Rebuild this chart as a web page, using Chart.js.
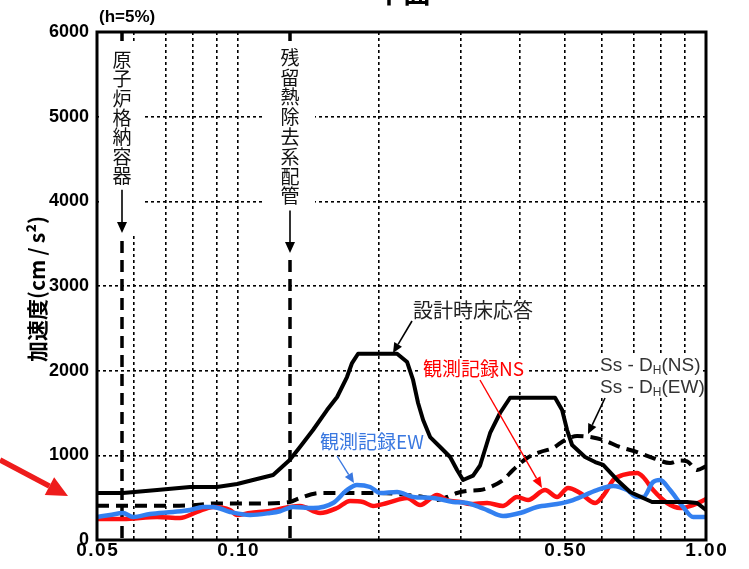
<!DOCTYPE html>
<html>
<head>
<meta charset="utf-8">
<script src="https://cdn.jsdelivr.net/npm/chart.js@4/dist/chart.umd.min.js"></script>
<style>
  html, body { margin: 0; padding: 0; background: #fff; }
  #wrap { width: 749px; height: 569px; position: relative; }
</style>
</head>
<body>
<div id="wrap"><canvas id="c" width="749" height="569"></canvas></div>
<script>
// 周期 (s) と 応答加速度 (cm/s²)、減衰 h=5%

// 設計時床応答
const designPeriods = [0.05,0.0568,0.0672,0.079,0.0902,0.0996,0.1077,0.1189,0.129,0.1357,
  0.1447,0.155,0.1629,0.171,0.1753,0.1806,0.2188,0.2299,0.2367,0.2426,
  0.2487,0.2574,0.2704,0.284,0.2939,0.3027,0.318,0.3291,0.3458,0.3631,
  0.3815,0.476,0.4927,0.505,0.5175,0.5516,0.5796,0.603,0.646,0.6885,
  0.734,0.767,0.838,0.9115,0.957,1.0];
const designAccel = [555,555,590,626,626,661,709,768,945,1098,
  1299,1535,1689,1925,2090,2200,2200,2102,1890,1618,
  1417,1216,1098,980,827,709,760,880,1264,1500,
  1680,1680,1535,1299,1122,980,921,886,709,567,
  496,449,449,449,437,354];

// Ss-D_H (NS/EW)
const ssPeriods = [0.05,0.0672,0.079,0.0902,0.1,0.123,0.129,0.1357,0.1498,0.171,
  0.2012,0.2299,0.2487,0.2664,0.2797,0.2939,0.3087,0.3291,0.3458,0.3685,
  0.387,0.4146,0.4422,0.4713,0.5,0.5305,0.5655,0.603,0.6554,0.7126,
  0.771,0.838,0.8806,0.9115,0.957,1.0];
const ssAccel = [405,405,410,432,430,437,449,496,555,555,
  555,531,508,472,508,555,579,590,626,709,
  827,968,1039,1087,1181,1228,1216,1181,1098,1039,
  968,909,940,930,827,870];

// 観測記録NS
const nsPeriods = [0.05,0.0568,0.0672,0.0752,0.0818,0.0885,0.0962,0.0996,0.1062,0.1171,
  0.129,0.1357,0.1498,0.1629,0.1736,0.185,0.1944,0.2083,0.2299,0.245,
  0.2664,0.2797,0.2983,0.3133,0.3407,0.3685,0.3948,0.4167,0.4532,0.4807,
  0.5074,0.5385,0.5796,0.609,0.6334,0.665,0.7126,0.734,0.771,0.826,
  0.8806,0.9385,1.0];
const nsAccel = [248,248,272,260,331,390,354,295,319,343,
  390,402,319,378,461,449,402,437,496,413,
  531,472,449,425,437,402,508,472,590,508,
  614,555,437,555,709,768,791,744,590,437,
  378,413,484];

// 観測記録EW
const ewPeriods = [0.05,0.0533,0.0568,0.0597,0.0649,0.0727,0.079,0.0842,0.0885,0.0962,
  0.1062,0.1171,0.123,0.1312,0.1447,0.1597,0.171,0.1796,0.1916,0.2012,
  0.2188,0.2367,0.2612,0.2882,0.3087,0.3291,0.3407,0.3685,0.4007,0.4355,
  0.4807,0.52,0.585,0.6334,0.6783,0.7126,0.734,0.771,0.798,0.838,
  0.8935,0.9385,1.0];
const ewAccel = [272,295,319,272,307,331,354,390,390,331,
  295,319,340,390,378,437,590,650,626,555,
  567,508,496,449,437,385,354,283,319,390,
  425,472,590,638,590,508,508,685,709,590,
  390,272,272];

// 軸目盛
const xTickValues = [0.05,0.06,0.07,0.08,0.09,0.1,0.2,0.3,0.4,0.5,0.6,0.7,0.8,0.9,1.0];
const xTickLabelValues = [0.05,0.1,0.5,1.0];
const xTickLabels = ['0.05','0.10','0.50','1.00'];
const yTickValues = [0,1000,2000,3000,4000,5000,6000];

// 設備の固有周期
const markerPeriods = [0.0566, 0.129];
const markerLabels = ['原子炉格納容器', '残留熱除去系配管'];

const CJK = '"Noto Sans CJK JP", "Noto Sans", sans-serif';
const LAT = '"Liberation Sans", Arial, sans-serif';

const toPts = (xs, ys) => xs.map((x, i) => ({ x: x, y: ys[i] }));

function arrow(ctx, x1, y1, x2, y2, color, w, headLen, headHalf) {
  const a = Math.atan2(y2 - y1, x2 - x1);
  const bx = x2 - headLen * Math.cos(a), by = y2 - headLen * Math.sin(a);
  ctx.save();
  ctx.strokeStyle = color; ctx.fillStyle = color; ctx.lineWidth = w; ctx.setLineDash([]);
  ctx.beginPath(); ctx.moveTo(x1, y1); ctx.lineTo(bx, by); ctx.stroke();
  ctx.beginPath();
  ctx.moveTo(x2, y2);
  ctx.lineTo(bx + headHalf * Math.sin(a), by - headHalf * Math.cos(a));
  ctx.lineTo(bx - headHalf * Math.sin(a), by + headHalf * Math.cos(a));
  ctx.closePath(); ctx.fill();
  ctx.restore();
}

function boxedText(ctx, text, x, y, font, color, align) {
  ctx.save();
  ctx.font = font; ctx.textBaseline = 'middle'; ctx.textAlign = align || 'left';
  const w = ctx.measureText(text).width;
  const lx = align === 'center' ? x - w / 2 : x;
  ctx.fillStyle = '#fff';
  ctx.fillRect(lx - 3, y - 11, w + 6, 22);
  ctx.fillStyle = color;
  ctx.fillText(text, x, y);
  ctx.restore();
}

function ssLabel(ctx, x, y, dir) {
  ctx.save();
  ctx.font = '19px ' + LAT;
  const a = 'Ss - D', sub = 'H', b = '(' + dir + ')';
  const wa = ctx.measureText(a).width, wb = ctx.measureText(b).width;
  ctx.font = '12px ' + LAT;
  const ws = ctx.measureText(sub).width;
  ctx.fillStyle = '#fff';
  ctx.fillRect(x - 2, y - 11, wa + ws + wb + 4, 22);
  ctx.fillStyle = '#333';
  ctx.textBaseline = 'alphabetic';
  ctx.font = '19px ' + LAT;
  ctx.fillText(a, x, y + 7);
  ctx.font = '12px ' + LAT;
  ctx.fillText(sub, x + wa, y + 10);
  ctx.font = '19px ' + LAT;
  ctx.fillText(b, x + wa + ws, y + 7);
  ctx.restore();
}

const annotations = {
  id: 'annotations',
  beforeDatasetsDraw(chart) {
    const ctx = chart.ctx, area = chart.chartArea, xs = chart.scales.x;
    // 固有周期の縦線
    ctx.save();
    ctx.strokeStyle = '#000'; ctx.lineWidth = 3.5; ctx.setLineDash([12, 7]);
    markerPeriods.forEach(p => {
      const px = Math.round(xs.getPixelForValue(p));
      ctx.beginPath(); ctx.moveTo(px, area.top); ctx.lineTo(px, area.bottom); ctx.stroke();
    });
    ctx.restore();

    // 設備名 (縦書き) と矢印
    const boxes = [
      { top: 41, bottom: 236, half: 23, charTop: 52, step: 19.4, arrowEnd: 233 },
      { top: 41, bottom: 256, half: 25, charTop: 50, step: 19.8, arrowEnd: 253 }
    ];
    markerLabels.forEach((label, k) => {
      const b = boxes[k];
      const px = Math.round(xs.getPixelForValue(markerPeriods[k]));
      ctx.save();
      ctx.fillStyle = '#fff';
      ctx.fillRect(px - b.half, b.top, b.half * 2, b.bottom - b.top);
      ctx.fillStyle = '#111';
      ctx.font = '19px ' + CJK;
      ctx.textAlign = 'center'; ctx.textBaseline = 'top';
      const chars = Array.from(label);
      chars.forEach((ch, i) => ctx.fillText(ch, px, b.charTop + i * b.step - 2));
      const textEnd = b.charTop + chars.length * b.step + 2;
      ctx.restore();
      arrow(ctx, px, textEnd, px, b.arrowEnd, '#000', 1.6, 11, 5);
    });

    // 曲線の注記
    boxedText(ctx, '設計時床応答', 413, 310, '20px ' + CJK, '#222');
    boxedText(ctx, '観測記録NS', 423, 369, '19px ' + CJK, '#ff0000');
    boxedText(ctx, '観測記録EW', 320, 442, '19px ' + CJK, '#3a78e0');
    ssLabel(ctx, 600, 364, 'NS');
    ssLabel(ctx, 600, 386, 'EW');
  },
  afterDatasetsDraw(chart) {
    const ctx = chart.ctx, area = chart.chartArea;
    arrow(ctx, 412, 321, 393, 353, '#000', 1.6, 10, 4.5);
    arrow(ctx, 480, 380, 542, 488, '#ff0000', 1.4, 11, 4.5);
    arrow(ctx, 337, 456, 354, 483, '#3a78e0', 1.4, 10, 4.5);
    arrow(ctx, 605, 398, 588, 434, '#000', 1.6, 10, 4.5);
    // 枠
    ctx.save();
    ctx.strokeStyle = '#000'; ctx.lineWidth = 3; ctx.setLineDash([]);
    ctx.strokeRect(area.left, area.top, area.right - area.left, area.bottom - area.top);
    ctx.restore();
  },
  afterDraw(chart) {
    const ctx = chart.ctx, area = chart.chartArea, xs = chart.scales.x;
    ctx.save();
    ctx.fillStyle = '#000';
    // 周期軸の目盛ラベル (字間を少し広げて描く)
    ctx.font = 'bold 19px ' + LAT;
    ctx.textAlign = 'center'; ctx.textBaseline = 'middle';
    ctx.letterSpacing = '1.5px';
    xTickLabelValues.forEach((v, i) => {
      ctx.fillText(xTickLabels[i], xs.getPixelForValue(v) + 0.75, area.bottom + 11);
    });
    ctx.letterSpacing = '0px';
    ctx.font = 'bold 28px ' + CJK;
    ctx.textAlign = 'center'; ctx.textBaseline = 'alphabetic';
    ctx.fillText('平面', 403, 3);
    ctx.font = 'bold 17px ' + LAT;
    ctx.textAlign = 'left'; ctx.textBaseline = 'middle';
    ctx.fillText('(h=5%)', 99, 17);
    // y軸タイトル
    ctx.translate(37, 289);
    ctx.rotate(-Math.PI / 2);
    ctx.textAlign = 'center';
    ctx.font = 'bold 21px ' + CJK;
    ctx.fillText('加速度(cm\u2009/\u2009s²)', 0, 0);
    ctx.restore();
    // 左端の赤矢印
    arrow(ctx, 0, 460, 68, 496, '#ee1c1c', 5.5, 21, 10);
  }
};

new Chart(document.getElementById('c'), {
  type: 'scatter',
  data: {
    datasets: [
      { label: '設計時床応答', data: toPts(designPeriods, designAccel), showLine: true,
        borderColor: '#000', borderWidth: 4, pointRadius: 0, tension: 0, borderJoinStyle: 'round' },
      { label: '観測記録EW', data: toPts(ewPeriods, ewAccel), showLine: true,
        borderColor: '#3380f0', borderWidth: 4.5, pointRadius: 0, cubicInterpolationMode: 'monotone' },
      { label: '観測記録NS', data: toPts(nsPeriods, nsAccel), showLine: true,
        borderColor: '#ff1010', borderWidth: 4.5, pointRadius: 0, cubicInterpolationMode: 'monotone' },
      { label: 'Ss-DH', data: toPts(ssPeriods, ssAccel), showLine: true,
        borderColor: '#000', borderWidth: 4, borderDash: [12, 7], pointRadius: 0, cubicInterpolationMode: 'monotone' }
    ]
  },
  options: {
    responsive: false,
    animation: false,
    devicePixelRatio: 1,
    layout: { padding: { top: 32, right: 43, left: 0, bottom: 0 } },
    plugins: { legend: { display: false }, tooltip: { enabled: false } },
    scales: {
      x: {
        type: 'logarithmic', min: 0.05, max: 1.0,
        afterBuildTicks: s => { s.ticks = xTickValues.map(v => ({ value: v })); },
        afterFit: s => { s.height = 29; },
        ticks: { display: false, autoSkip: false },
        grid: { color: '#000', lineWidth: 1.6, drawTicks: false },
        border: { display: false, dash: [3, 3] }
      },
      y: {
        min: 0, max: 6000,
        afterBuildTicks: s => { s.ticks = yTickValues.map(v => ({ value: v })); },
        afterFit: s => { s.width = 97; },
        ticks: {
          padding: 8, color: '#000',
          font: { family: LAT, weight: 'bold', size: 18 },
          callback: v => String(v)
        },
        grid: { color: '#000', lineWidth: 1.6, drawTicks: false },
        border: { display: false, dash: [3, 3] }
      }
    }
  },
  plugins: [annotations]
});
</script>
</body>
</html>
